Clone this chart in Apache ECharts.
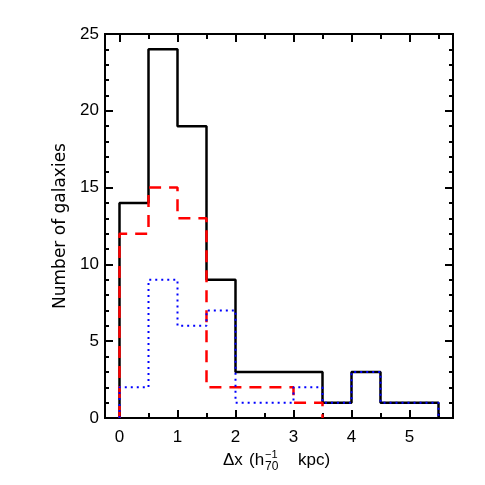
<!DOCTYPE html>
<html>
<head>
<meta charset="utf-8">
<script src="https://cdn.jsdelivr.net/npm/echarts@6/dist/echarts.min.js"></script>
<style>
  html, body { margin: 0; padding: 0; background: #fff; }
  #chart { width: 485px; height: 485px; }
</style>
</head>
<body>
<div id="chart"></div>
<script>
// bin edges (left edge of each 0.5-wide bin)
const binEdges = [0, 0.5, 1, 1.5, 2, 2.5, 3, 3.5, 4, 4.5, 5];
const allCounts = [14, 24, 19, 9, 3, 3, 3, 1, 3, 1, 1];
const redCounts = [12, 15, 13, 2, 2, 2, 1];
const blueCounts = [2, 9, 6, 7, 1, 1, 2, 1, 3, 1, 1];
const xMajor = [0, 1, 2, 3, 4, 5];
const xMinor = [0.5, 1.5, 2.5, 3.5, 4.5, 5.5];
const binWidth = 0.5;

// step outline: start at zero, one point per bin, close back to zero
function stepData(counts) {
  const pts = [[binEdges[0], 0]];
  counts.forEach((c, i) => pts.push([binEdges[i], c]));
  pts.push([binEdges[counts.length - 1] + binWidth, 0]);
  return pts;
}

const font = 'Liberation Sans';
const chart = echarts.init(document.getElementById('chart'));

const baseX = {
  type: 'value',
  min: -0.25,
  max: 5.75,
  splitLine: { show: false },
  axisLine: { show: true, onZero: false, lineStyle: { color: '#000', width: 2 } },
};

const option = {
  animation: false,
  grid: { left: 105, top: 34, right: 32, bottom: 67 },
  xAxis: [
    Object.assign({}, baseX, {
      position: 'bottom',
      axisTick: { inside: true, length: 8, customValues: xMajor, lineStyle: { color: '#000', width: 2 } },
      axisLabel: { customValues: xMajor, color: '#000', fontSize: 17, fontFamily: font, margin: 11 },
    }),
    Object.assign({}, baseX, {
      position: 'bottom',
      axisTick: { inside: true, length: 5, customValues: xMinor, lineStyle: { color: '#000', width: 2 } },
      axisLabel: { show: false },
    }),
    Object.assign({}, baseX, {
      position: 'top',
      axisTick: { inside: true, length: 8, customValues: xMajor, lineStyle: { color: '#000', width: 2 } },
      axisLabel: { show: false },
    }),
    Object.assign({}, baseX, {
      position: 'top',
      axisTick: { inside: true, length: 5, customValues: xMinor, lineStyle: { color: '#000', width: 2 } },
      axisLabel: { show: false },
    }),
  ],
  yAxis: [
    {
      type: 'value',
      min: 0,
      max: 25,
      interval: 5,
      position: 'left',
      name: 'Number of galaxies',
      nameLocation: 'middle',
      nameGap: 36,
      nameTextStyle: { color: '#000', fontSize: 17, fontFamily: 'DejaVu Sans' },
      splitLine: { show: false },
      axisLine: { show: true, onZero: false, lineStyle: { color: '#000', width: 2 } },
      axisTick: { inside: true, length: 8, lineStyle: { color: '#000', width: 2 } },
      minorTick: { show: true, splitNumber: 5, length: 4, lineStyle: { color: '#000', width: 2 } },
      axisLabel: { color: '#000', fontSize: 17, fontFamily: font, margin: 6 },
    },
    {
      type: 'value',
      min: 0,
      max: 25,
      interval: 5,
      position: 'right',
      splitLine: { show: false },
      axisLine: { show: true, onZero: false, lineStyle: { color: '#000', width: 2 } },
      axisTick: { inside: true, length: 8, lineStyle: { color: '#000', width: 2 } },
      minorTick: { show: true, splitNumber: 5, length: 4, lineStyle: { color: '#000', width: 2 } },
      axisLabel: { show: false },
    },
  ],
  series: [
    {
      type: 'line',
      step: 'end',
      symbol: 'none',
      data: stepData(allCounts),
      lineStyle: { color: '#000', width: 2.5 },
      z: 3,
    },
    {
      type: 'line',
      step: 'end',
      symbol: 'none',
      data: stepData(redCounts),
      lineStyle: { color: '#ff0000', width: 2.5, type: [12, 8] },
      z: 4,
    },
    {
      type: 'line',
      step: 'end',
      symbol: 'none',
      data: stepData(blueCounts),
      lineStyle: { color: '#0000ff', width: 2, type: [2, 4] },
      z: 5,
    },
  ],
  graphic: [
    { type: 'text', left: 223, top: 452, style: { text: 'Δx', fontSize: 17, fontFamily: font, fill: '#000' } },
    { type: 'text', left: 249, top: 452, style: { text: '(h', fontSize: 17, fontFamily: font, fill: '#000' } },
    { type: 'text', left: 265, top: 449, style: { text: '−1', fontSize: 11, fontFamily: font, fill: '#000' } },
    { type: 'text', left: 265, top: 461, style: { text: '70', fontSize: 12, fontFamily: font, fill: '#000' } },
    { type: 'text', left: 298, top: 452, style: { text: 'kpc)', fontSize: 17, fontFamily: font, fill: '#000' } },
  ],
};

chart.setOption(option);
window.addEventListener('resize', () => {
  chart.resize();
});
</script>
</body>
</html>
